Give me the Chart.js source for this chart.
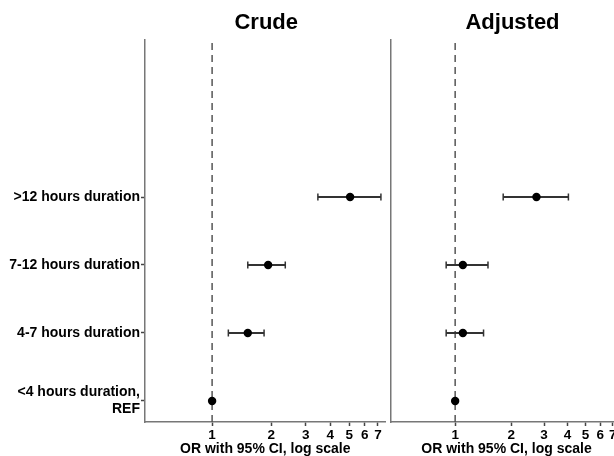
<!DOCTYPE html>
<html><head><meta charset="utf-8">
<script src="https://cdn.jsdelivr.net/npm/chart.js@4/dist/chart.umd.min.js"></script>
<style>
html,body{margin:0;padding:0;background:#fff;overflow:hidden;width:614px;height:456px;}
#c1{position:absolute;left:0;top:0;}
#c2{position:absolute;left:385px;top:0;}
</style></head><body>
<canvas id="c1" width="391" height="456"></canvas>
<canvas id="c2" width="243" height="456"></canvas>
<script>
const categories = ["<4 hours duration,|REF", "4-7 hours duration", "7-12 hours duration", ">12 hours duration"];
const panelTitles = ["Crude", "Adjusted"];
const crudeOR  = [1.00, 1.52, 1.93, 5.05];
const crudeLo  = [1.00, 1.21, 1.52, 3.46];
const crudeHi  = [1.00, 1.84, 2.36, 7.25];
const adjOR    = [1.00, 1.10, 1.10, 2.73];
const adjLo    = [1.00, 0.895, 0.895, 1.81];
const adjHi    = [1.00, 1.42, 1.50, 4.05];
const xTicks   = [1, 2, 3, 4, 5, 6, 7];
const xTitle   = "OR with 95% CI, log scale";

const FONT = "'Liberation Sans', Arial, Helvetica, sans-serif";

function makeChart(id, title, est, lo, hi, showY, yWidth, xmin, xmax, titleShift) {
  const datasets = [];
  datasets.push({
    data: [{x: 1, y: -0.31}, {x: 1, y: 5.31}],
    showLine: true, borderColor: '#555', borderWidth: 1.5, borderDash: [7, 5],
    pointRadius: 0, order: 3
  });
  for (let i = 0; i < est.length; i++) {
    if (hi[i] > lo[i]) {
      datasets.push({
        data: [{x: lo[i], y: i}, {x: hi[i], y: i}],
        showLine: true, borderColor: '#333', borderWidth: 2,
        pointStyle: 'line', rotation: 90, pointRadius: 3.5,
        pointBorderColor: '#333', pointBorderWidth: 1.5, order: 2
      });
    }
  }
  datasets.push({
    data: est.map((v, i) => ({x: v, y: i})),
    showLine: false, pointRadius: 4.2, backgroundColor: '#000', borderColor: '#000',
    pointBorderWidth: 0, order: 1
  });
  const titlePlugin = {
    id: 'ptitle',
    afterDraw(chart) {
      const ctx = chart.ctx; const a = chart.chartArea;
      ctx.save();
      ctx.font = "bold 22px " + FONT;
      ctx.fillStyle = '#000'; ctx.textAlign = 'center'; ctx.textBaseline = 'middle';
      ctx.fillText(title, (a.left + a.right) / 2 + titleShift, 23);
      ctx.restore();
    }
  };
  return new Chart(document.getElementById(id), {
    type: 'scatter',
    data: {datasets},
    plugins: [titlePlugin],
    options: {
      responsive: false, animation: false,
      layout: {padding: {top: 40, left: 0, right: 0, bottom: 0}},
      plugins: {legend: {display: false}, tooltip: {enabled: false}, title: {display: false}},
      scales: {
        x: {
          type: 'logarithmic', min: xmin, max: xmax,
          afterBuildTicks: s => { s.ticks = xTicks.map(v => ({value: v})); },
          grid: {display: true, drawOnChartArea: false, drawTicks: true, tickLength: 4, color: '#444', tickWidth: 1.5},
          border: {display: true, color: '#777', width: 1.5},
          ticks: {callback: v => String(v), color: '#000', font: {family: FONT, weight: 'bold', size: 13.5}, padding: 1, maxRotation: 0, autoSkip: false},
          title: {display: true, text: xTitle, color: '#000', font: {family: FONT, weight: 'bold', size: 14}, padding: {top: 0, bottom: -2}},
          afterFit: s => { s.height = 34; }
        },
        y: {
          type: 'linear', min: -0.31, max: 5.31,
          afterBuildTicks: s => { s.ticks = categories.map((c, i) => ({value: i})); },
          grid: {display: true, drawOnChartArea: false, drawTicks: showY, tickLength: 4, color: '#444', tickWidth: 1.5},
          border: {display: true, color: '#777', width: 1.5},
          ticks: {display: showY, callback: (v) => { const c = categories[v]; return c ? c.split('|') : ''; },
                  color: '#000', font: {family: FONT, weight: 'bold', size: 14, lineHeight: 1.2}, padding: 1, autoSkip: false},
          afterFit: s => { s.width = yWidth; }
        }
      }
    }
  });
}
makeChart('c1', panelTitles[0], crudeOR, crudeLo, crudeHi, true, 145, 0.455, 7.65, 1);
makeChart('c2', panelTitles[1], adjOR, adjLo, adjHi, false, 2, 0.45, 7.9, 6);
</script>
</body></html>
